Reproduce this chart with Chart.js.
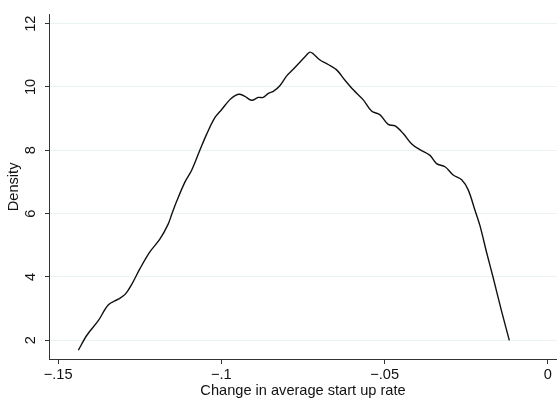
<!DOCTYPE html>
<html>
<head>
<meta charset="utf-8">
<script src="https://cdn.jsdelivr.net/npm/chart.js@4/dist/chart.umd.min.js"></script>
<style>
  html, body { margin: 0; padding: 0; background: #fff; }
  #wrap { width: 557px; height: 403px; position: relative; }
</style>
</head>
<body>
<div id="wrap"><canvas id="grafico"></canvas></div>
<script>
// kernel density curve
const xValues = [
    -0.1438, -0.1412, -0.1377, -0.1346, -0.1316, -0.1295, -0.1275, -0.1249, -0.1219, -0.1188,
    -0.1163, -0.1152, -0.1137, -0.1111, -0.1091, -0.1066, -0.1045, -0.1020, -0.0999, -0.0974,
    -0.0958, -0.0943, -0.0928, -0.0907, -0.0887, -0.0872, -0.0856, -0.0841, -0.0821, -0.0800,
    -0.0780, -0.0759, -0.0739, -0.0729, -0.0719, -0.0698, -0.0673, -0.0647, -0.0622, -0.0596,
    -0.0566, -0.0540, -0.0514, -0.0489, -0.0468, -0.0443, -0.0417, -0.0392, -0.0361, -0.0341,
    -0.0315, -0.0290, -0.0264, -0.0244, -0.0224, -0.0208, -0.0188, -0.0167, -0.0142, -0.0118
];
const density = [
    1.69, 2.16, 2.62, 3.12, 3.30, 3.45, 3.76, 4.27, 4.79, 5.20,
    5.67, 5.98, 6.39, 7.01, 7.37, 8.00, 8.51, 9.03, 9.29, 9.60,
    9.73, 9.77, 9.70, 9.58, 9.67, 9.67, 9.80, 9.86, 10.04, 10.35,
    10.56, 10.79, 11.01, 11.10, 11.05, 10.85, 10.71, 10.54, 10.22, 9.91,
    9.60, 9.24, 9.12, 8.82, 8.77, 8.53, 8.20, 8.02, 7.84, 7.58,
    7.48, 7.22, 7.07, 6.75, 6.13, 5.62, 4.79, 3.96, 2.93, 2.00
];

const xTicks = [-0.15, -0.1, -0.05, 0];
const xTickLabels = ["\u2212.15", "\u2212.1", "\u2212.05", "0"];
const yTicks = [2, 4, 6, 8, 10, 12];

const fonte = { family: "'Liberation Sans', Arial, sans-serif", size: 14.6 };

function montarGrafico() {
    const ctx = document.getElementById("grafico");

    new Chart(ctx, {
        type: "line",
        data: {
            datasets: [{
                data: xValues.map((x, i) => ({ x: x, y: density[i] })),
                borderColor: "#111",
                borderWidth: 1.4,
                pointRadius: 0,
                tension: 0.35,
                fill: false
            }]
        },
        options: {
            responsive: true,
            maintainAspectRatio: false,
            animation: false,
            layout: { padding: { top: 9, right: 0, bottom: 0, left: 0 } },
            plugins: { legend: { display: false }, tooltip: { enabled: false } },
            scales: {
                x: {
                    type: "linear",
                    min: -0.1528,
                    max: 0.0028,
                    afterBuildTicks: s => { s.ticks = xTicks.map(v => ({ value: v })); },
                    afterFit: s => { s.height = 44; },
                    grid: { drawOnChartArea: false, drawTicks: true, tickLength: 5, tickColor: "#333" },
                    border: { display: true, color: "#333", width: 1 },
                    ticks: {
                        color: "#111",
                        font: fonte,
                        padding: 2,
                        maxRotation: 0,
                        autoSkip: false,
                        callback: v => {
                            const i = xTicks.findIndex(t => Math.abs(t - v) < 1e-9);
                            return i >= 0 ? xTickLabels[i] : "";
                        }
                    },
                    title: {
                        display: true,
                        text: "Change in average start up rate",
                        color: "#111",
                        font: fonte,
                        padding: { top: 0, bottom: 3 }
                    }
                },
                y: {
                    min: 1.41,
                    max: 12.28,
                    afterBuildTicks: s => { s.ticks = yTicks.map(v => ({ value: v })); },
                    afterFit: s => { s.width = 49; },
                    grid: { color: "#eaf2f3", lineWidth: 1, drawTicks: true, tickLength: 4, tickColor: "#333" },
                    border: { display: true, color: "#333", width: 1 },
                    ticks: {
                        color: "#111",
                        font: fonte,
                        padding: 6,
                        minRotation: 90,
                        maxRotation: 90,
                        crossAlign: "center",
                        autoSkip: false
                    },
                    title: {
                        display: true,
                        text: "Density",
                        color: "#111",
                        font: fonte,
                        padding: { top: 5, bottom: 0 }
                    }
                }
            }
        }
    });
}

montarGrafico();
</script>
</body>
</html>
